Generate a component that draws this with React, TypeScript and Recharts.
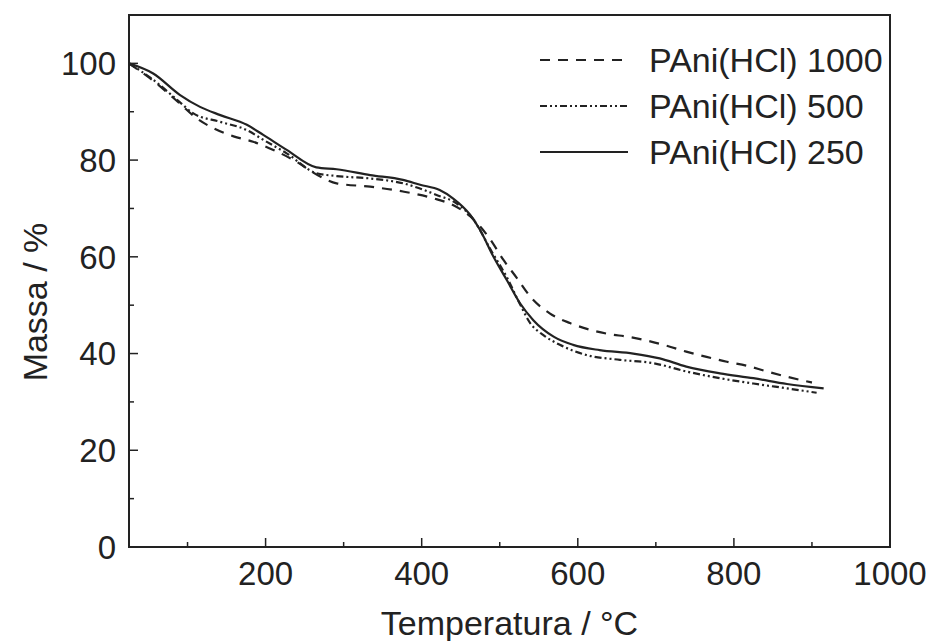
import React from "react";
import { LineChart, Line, XAxis, YAxis, ReferenceArea } from "recharts";

// TGA curves
const T_1000 = [25, 60, 90, 112, 133, 159, 184, 210, 236, 270, 291, 334, 376, 415, 440, 462, 487, 505, 522, 539, 564, 590, 616, 641, 663, 688, 714, 739, 765, 791, 816, 842, 868, 900];
const M_1000 = [100, 95.9, 91.7, 88.6, 86.6, 84.9, 83.8, 82.1, 80.0, 76.6, 75.2, 74.5, 73.5, 72.1, 70.7, 68.4, 63.8, 59.3, 55.6, 51.8, 48.3, 46.3, 44.9, 44.0, 43.5, 42.7, 41.6, 40.4, 39.3, 38.3, 37.5, 36.3, 35.2, 34.0];

const T_500 = [25, 56, 90, 107, 142, 176, 197, 227, 265, 291, 334, 376, 419, 445, 465, 490, 510, 525, 539, 556, 577, 611, 654, 697, 739, 782, 825, 868, 906];
const M_500 = [100, 96.6, 92.0, 89.7, 87.9, 86.2, 84.2, 81.4, 77.3, 76.7, 76.2, 75.2, 72.8, 71.0, 68.0, 61.0, 55.5, 50.5, 46.3, 43.8, 41.8, 39.7, 38.7, 38.0, 36.3, 34.9, 33.8, 32.8, 31.9];

const T_250 = [25, 56, 90, 116, 142, 176, 197, 227, 265, 291, 334, 376, 398, 423, 440, 462, 475, 492, 509, 526, 543, 569, 594, 628, 671, 705, 739, 782, 825, 868, 915];
const M_250 = [100, 97.9, 93.5, 91.0, 89.3, 87.3, 85.2, 82.1, 78.5, 78.1, 76.9, 75.9, 74.9, 73.8, 72.1, 68.7, 65.5, 60.0, 55.2, 50.4, 46.9, 43.5, 41.8, 40.7, 40.0, 39.0, 37.3, 35.9, 34.9, 33.7, 32.8];

const X_TICKS = [100, 200, 300, 400, 500, 600, 700, 800, 900, 1000];
const X_LABELS = [200, 400, 600, 800, 1000];
const Y_TICKS = [0, 10, 20, 30, 40, 50, 60, 70, 80, 90, 100];
const Y_LABELS = [0, 20, 40, 60, 80, 100];

const FONT = "'Liberation Sans', Arial, sans-serif";
const INK = "#222";

const toRows = (ts: number[], ms: number[]) => ts.map((t, i) => ({ t, m: ms[i] }));

const series = [
  { name: "PAni(HCl) 1000", data: toRows(T_1000, M_1000), dash: "10 8" },
  { name: "PAni(HCl) 500", data: toRows(T_500, M_500), dash: "7 3 2 3 2 3" },
  { name: "PAni(HCl) 250", data: toRows(T_250, M_250), dash: undefined },
];

const X_GAP = 14;
const Y_GAP = 13;

function XTick(props: any) {
  const { x, y, payload } = props;
  const major = X_LABELS.includes(payload.value);
  const axisY = y - X_GAP;
  return (
    <g>
      <line x1={x} x2={x} y1={axisY} y2={axisY - (major ? 9 : 5)} stroke={INK} strokeWidth={1.5} />
      {major && (
        <text x={x} y={y} dy="0.72em" textAnchor="middle" fontSize={33} fontFamily={FONT} fill={INK}>
          {payload.value}
        </text>
      )}
    </g>
  );
}

function YTick(props: any) {
  const { x, y, payload } = props;
  const major = Y_LABELS.includes(payload.value);
  const axisX = x + Y_GAP;
  return (
    <g>
      <line x1={axisX} x2={axisX + (major ? 9 : 5)} y1={y} y2={y} stroke={INK} strokeWidth={1.5} />
      {major && (
        <text x={x} y={y} dy="0.36em" textAnchor="end" fontSize={33} fontFamily={FONT} fill={INK}>
          {payload.value}
        </text>
      )}
    </g>
  );
}

export default function App() {
  return (
    <div style={{ position: "absolute", left: 0, top: 0, width: 929, height: 641, background: "#fff" }}>
      <LineChart width={929} height={641} margin={{ top: 15, right: 39, bottom: 0, left: 0 }}>
        <XAxis
          type="number"
          dataKey="t"
          domain={[25, 1000]}
          ticks={X_TICKS}
          interval={0}
          axisLine={false}
          tickLine={false}
          tickSize={0}
          tickMargin={X_GAP}
          tick={<XTick />}
          height={94}
          allowDataOverflow
          label={{ value: "Temperatura / °C", position: "insideBottom", offset: 6, fontSize: 34, fontFamily: FONT, fill: INK }}
        />
        <YAxis
          type="number"
          dataKey="m"
          domain={[0, 110]}
          ticks={Y_TICKS}
          interval={0}
          axisLine={false}
          tickLine={false}
          tickSize={0}
          tickMargin={Y_GAP}
          tick={<YTick />}
          width={129}
          allowDataOverflow
          label={{ value: "Massa / %", angle: -90, position: "center", dx: -30, dy: 21, fontSize: 34, fontFamily: FONT, fill: INK }}
        />
        <ReferenceArea x1={25} x2={1000} y1={0} y2={110} fill="none" stroke={INK} strokeWidth={2} />
        {series.map((s) => (
          <Line
            key={s.name}
            data={s.data}
            dataKey="m"
            type="monotone"
            stroke={INK}
            strokeWidth={2.2}
            strokeDasharray={s.dash}
            dot={false}
            isAnimationActive={false}
          />
        ))}
      </LineChart>
      <div style={{ position: "absolute", left: 540, top: 37, fontFamily: FONT, fontSize: 34, color: INK }}>
        {series.map((s) => (
          <div key={s.name} style={{ display: "flex", alignItems: "center", height: 46 }}>
            <svg width={90} height={6} style={{ display: "block" }}>
              <line x1={0} y1={3} x2={88} y2={3} stroke={INK} strokeWidth={2.2} strokeDasharray={s.dash} />
            </svg>
            <span style={{ marginLeft: 19, lineHeight: "34px" }}>{s.name}</span>
          </div>
        ))}
      </div>
    </div>
  );
}
